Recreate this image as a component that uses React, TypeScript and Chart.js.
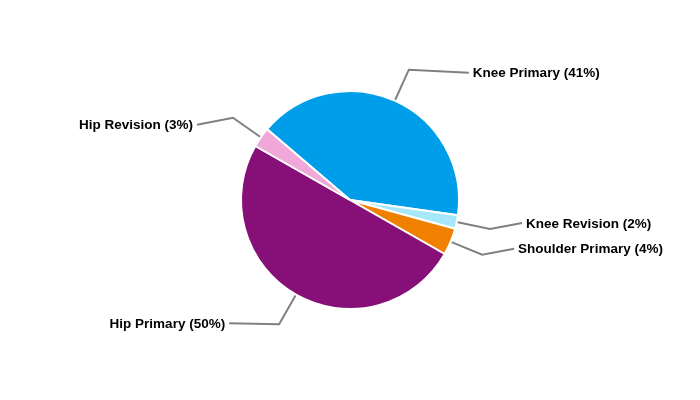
import React, { useEffect, useRef } from "react";
import { Chart, registerables } from "chart.js";

Chart.register(...registerables);

const categories = ["Knee Primary", "Knee Revision", "Shoulder Primary", "Hip Primary", "Hip Revision"];
const shares = [41, 2, 4, 50, 3];
const colors = ["#009EE8", "#A6E8FA", "#F08000", "#861078", "#F0A8D8"];

// leader line layout: horizontal run length and vertical drift of the final segment
const runLength = [60, 32, 32, 50, 36];
const runDrift = [3, -6, -6, -1, 7];

const labelPlugin = {
  id: "leaderLabels",
  afterDatasetsDraw(chart: any) {
    const ctx = chart.ctx;
    const meta = chart.getDatasetMeta(0);
    ctx.save();
    ctx.font = "bold 13.5px 'Liberation Sans', Arial, sans-serif";
    ctx.textBaseline = "middle";
    meta.data.forEach((arc: any, i: number) => {
      const { x, y, startAngle, endAngle, outerRadius } = arc.getProps(
        ["x", "y", "startAngle", "endAngle", "outerRadius"],
        true
      );
      const mid = (startAngle + endAngle) / 2;
      const cos = Math.cos(mid);
      const sin = Math.sin(mid);
      const x0 = x + cos * (outerRadius + 1);
      const y0 = y + sin * (outerRadius + 1);
      const x1 = x + cos * (outerRadius + 34);
      const y1 = y + sin * (outerRadius + 34);
      const right = cos >= 0;
      const x2 = x1 + (right ? 1 : -1) * runLength[i];
      const y2 = y1 + runDrift[i];
      ctx.strokeStyle = "#808080";
      ctx.lineWidth = 2;
      ctx.beginPath();
      ctx.moveTo(x0, y0);
      ctx.lineTo(x1, y1);
      ctx.lineTo(x2, y2);
      ctx.stroke();
      ctx.fillStyle = "#000000";
      ctx.textAlign = right ? "left" : "right";
      const text = `${categories[i]} (${shares[i]}%)`;
      ctx.fillText(text, x2 + (right ? 4 : -4), y2 + 1);
    });
    ctx.restore();
  },
};

export default function App() {
  const ref = useRef<HTMLCanvasElement>(null);
  useEffect(() => {
    document.body.style.margin = "0";
    const chart = new Chart(ref.current!, {
      type: "pie",
      data: {
        labels: categories,
        datasets: [
          {
            data: shares,
            backgroundColor: colors,
            borderColor: "#FFFFFF",
            borderWidth: 2,
          },
        ],
      },
      options: {
        responsive: false,
        animation: false,
        rotation: -49.5,
        layout: { padding: { top: 90, bottom: 90 } },
        plugins: {
          legend: { display: false },
          tooltip: { enabled: false },
        },
      },
      plugins: [labelPlugin],
    });
    return () => chart.destroy();
  }, []);
  return (
    <div style={{ width: 700, height: 400 }}>
      <canvas ref={ref} width={700} height={400} />
    </div>
  );
}
